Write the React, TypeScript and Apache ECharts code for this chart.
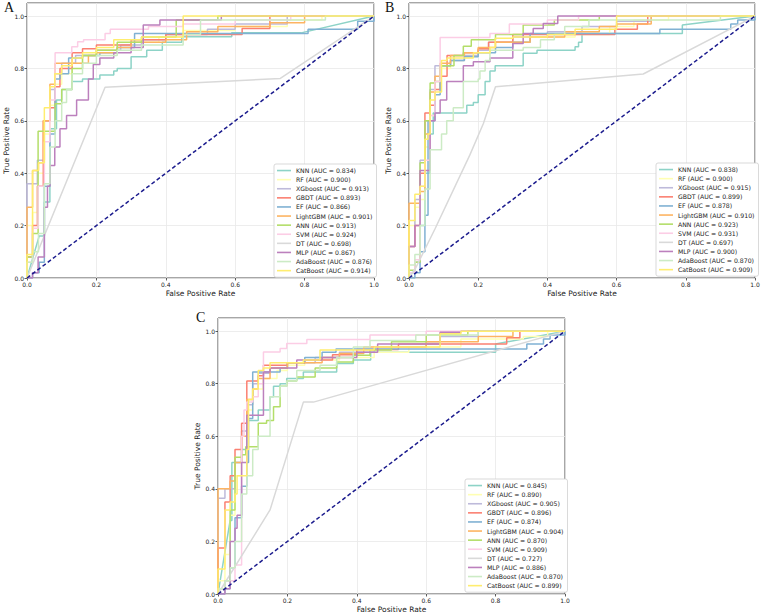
import React, { useEffect, useRef } from 'react';
import * as echarts from 'echarts';

// Model names, colours (Set3) and AUC values per panel
const models = ['KNN', 'RF', 'XGboost', 'GBDT', 'EF', 'LightGBM', 'ANN', 'SVM', 'DT', 'MLP', 'AdaBoost', 'CatBoost'];
const colors = ['#8dd3c7', '#ffffb3', '#bebada', '#fb8072', '#80b1d3', '#fdb462', '#b3de69', '#fccde5', '#d9d9d9', '#bc80bd', '#ccebc5', '#ffed6f'];
const aucA = [0.834, 0.900, 0.913, 0.893, 0.866, 0.901, 0.913, 0.924, 0.698, 0.867, 0.876, 0.914];
const aucB = [0.838, 0.900, 0.915, 0.899, 0.878, 0.910, 0.923, 0.931, 0.697, 0.900, 0.870, 0.909];
const aucC = [0.845, 0.890, 0.905, 0.896, 0.874, 0.904, 0.870, 0.909, 0.727, 0.886, 0.870, 0.899];

// ROC points [FPR, TPR]; a third entry of 1 marks a straight (tied) segment
const knnA = [[0,0],[0.035,0.16,1],[0.05,0.29],[0.066,0.57],[0.085,0.68],[0.1,0.72],[0.13,0.75],[0.16,0.76],[0.21,0.775],[0.25,0.79],[0.26,0.8],[0.3,0.845],[0.345,0.87],[0.39,0.9],[0.446,0.921],[0.59,0.936],[0.79,0.936],[1,1,1]];
const rfA = [[0,0],[0,0.2],[0.016,0.25],[0.03,0.4],[0.05,0.55],[0.066,0.66],[0.08,0.74],[0.1,0.78],[0.13,0.82],[0.16,0.85],[0.2,0.87],[0.26,0.89],[0.33,0.9],[0.38,0.92],[0.45,0.945],[0.6,0.96],[0.75,0.985],[0.85,1],[1,1]];
const xgbA = [[0,0],[0,0.36],[0.03,0.45],[0.05,0.6],[0.066,0.72],[0.08,0.78],[0.1,0.82],[0.14,0.85],[0.2,0.87],[0.27,0.89],[0.33,0.91],[0.4,0.93],[0.52,0.95],[0.6,0.97],[0.75,1],[1,1]];
const gbdtA = [[0,0],[0,0.08],[0.016,0.2],[0.03,0.35],[0.047,0.6],[0.066,0.65],[0.081,0.73],[0.095,0.8],[0.13,0.86],[0.16,0.875],[0.2,0.89],[0.3,0.91],[0.4,0.93],[0.62,0.953],[0.7,1],[1,1]];
const efA = [[0,0],[0.016,0.02],[0.035,0.06],[0.05,0.35],[0.066,0.55],[0.081,0.76],[0.095,0.78],[0.12,0.84],[0.16,0.85],[0.21,0.86],[0.26,0.88],[0.31,0.934],[0.81,0.95],[0.953,0.98],[1,1]];
const lgbA = [[0,0],[0,0.27],[0.016,0.41],[0.033,0.44],[0.047,0.6],[0.066,0.74],[0.081,0.82],[0.177,0.85],[0.2,0.86],[0.26,0.88],[0.3,0.9],[0.4,0.91],[0.46,0.94],[0.55,0.96],[0.7,0.975],[0.8,1],[1,1]];
const annA = [[0,0],[0,0.08],[0.016,0.17],[0.032,0.56],[0.081,0.665],[0.1,0.72],[0.13,0.8],[0.16,0.85],[0.2,0.87],[0.26,0.9],[0.33,0.92],[0.43,0.985],[0.55,1],[1,1]];
const svmA = [[0,0],[0,0.06],[0.016,0.19],[0.032,0.35],[0.05,0.52],[0.066,0.68],[0.081,0.86],[0.129,0.883],[0.146,0.902],[0.163,0.91],[0.225,0.934],[0.24,0.95],[0.35,0.96],[0.45,0.97],[0.6,0.985],[0.76,1],[1,1]];
const dtA = [[0,0],[0.225,0.728],[0.73,0.762],[1,1]];
const mlpA = [[0,0],[0.016,0.02],[0.032,0.08],[0.05,0.27],[0.059,0.35],[0.066,0.43],[0.08,0.5],[0.095,0.57],[0.114,0.62],[0.143,0.68],[0.177,0.76],[0.191,0.815],[0.21,0.84],[0.25,0.86],[0.3,0.88],[0.335,0.966],[0.383,0.985],[0.56,1],[1,1]];
const adaA = [[0,0],[0,0.06],[0.016,0.1],[0.033,0.17],[0.05,0.36],[0.066,0.5],[0.081,0.6],[0.1,0.67],[0.114,0.72],[0.13,0.78],[0.16,0.82],[0.2,0.85],[0.26,0.87],[0.33,0.89],[0.45,0.93],[0.5,0.985],[0.86,1],[1,1]];
const catA = [[0,0],[0,0.09],[0.016,0.41],[0.033,0.44],[0.05,0.65],[0.066,0.73],[0.08,0.78],[0.1,0.81],[0.13,0.84],[0.16,0.86],[0.2,0.88],[0.25,0.91],[0.33,0.92],[0.45,1],[1,1]];

const knnB = [[0,0],[0,0.02],[0.017,0.06],[0.032,0.2],[0.046,0.4],[0.06,0.55],[0.07,0.63],[0.167,0.66],[0.186,0.67],[0.2,0.7],[0.22,0.75],[0.234,0.79],[0.249,0.81],[0.33,0.858],[0.37,0.87],[0.48,0.883],[0.49,0.9],[0.5,0.934],[0.79,0.966],[1,1,1]];
const rfB = [[0,0],[0,0.2],[0.017,0.27],[0.032,0.3],[0.046,0.5],[0.061,0.62],[0.075,0.72],[0.09,0.8],[0.12,0.83],[0.16,0.85],[0.2,0.87],[0.25,0.9],[0.35,0.92],[0.48,0.93],[0.58,0.96],[0.65,0.985],[0.75,1],[1,1]];
const xgbB = [[0,0],[0,0.12],[0.017,0.3],[0.032,0.45],[0.046,0.6],[0.061,0.72],[0.075,0.81],[0.12,0.83],[0.16,0.85],[0.2,0.87],[0.23,0.9],[0.3,0.92],[0.4,0.94],[0.5,0.96],[0.6,0.98],[0.7,1],[1,1]];
const gbdtB = [[0,0],[0,0.12],[0.017,0.2],[0.032,0.4],[0.046,0.63],[0.061,0.66],[0.075,0.72],[0.09,0.77],[0.11,0.85],[0.157,0.86],[0.2,0.875],[0.23,0.9],[0.3,0.93],[0.595,0.95],[0.66,0.97],[0.69,1],[1,1]];
const efB = [[0,0],[0.017,0.02],[0.032,0.1],[0.046,0.24],[0.055,0.6],[0.075,0.7],[0.09,0.81],[0.12,0.83],[0.16,0.845],[0.2,0.86],[0.25,0.88],[0.3,0.9],[0.35,0.934],[0.725,0.95],[0.93,0.97],[0.95,0.985],[1,1]];
const lgbB = [[0,0],[0,0.285],[0.032,0.33],[0.046,0.55],[0.061,0.71],[0.075,0.77],[0.09,0.82],[0.12,0.85],[0.16,0.86],[0.2,0.88],[0.25,0.9],[0.35,0.92],[0.45,0.94],[0.55,0.96],[0.6,0.97],[0.7,1],[1,1]];
const annB = [[0,0],[0,0.03],[0.017,0.06],[0.032,0.44],[0.046,0.6],[0.061,0.745],[0.075,0.75],[0.09,0.81],[0.13,0.85],[0.157,0.885],[0.18,0.91],[0.25,0.93],[0.33,0.966],[0.42,0.985],[0.55,1],[1,1]];
const svmB = [[0,0],[0,0.02],[0.017,0.07],[0.032,0.35],[0.046,0.45],[0.061,0.62],[0.075,0.75],[0.09,0.918],[0.234,0.934],[0.29,0.97],[0.4,0.985],[0.49,1],[1,1]];
const dtB = [[0,0],[0.02,0.04],[0.076,0.19],[0.176,0.47],[0.215,0.59],[0.25,0.73],[0.677,0.779],[1,1]];
const mlpB = [[0,0],[0,0.12],[0.017,0.2],[0.032,0.41],[0.061,0.6],[0.075,0.63],[0.09,0.68],[0.109,0.75],[0.157,0.81],[0.186,0.826],[0.234,0.84],[0.3,0.895],[0.33,0.934],[0.359,0.953],[0.388,0.972],[0.43,1],[1,1]];
const adaB = [[0,0],[0,0.05],[0.017,0.09],[0.032,0.2],[0.046,0.34],[0.061,0.49],[0.094,0.55],[0.109,0.6],[0.128,0.65],[0.157,0.75],[0.2,0.76],[0.205,0.79],[0.22,0.83],[0.234,0.87],[0.33,0.88],[0.38,0.91],[0.42,0.93],[0.45,0.96],[0.52,0.985],[0.9,1],[1,1]];
const catB = [[0,0],[0,0.22],[0.017,0.32],[0.032,0.35],[0.046,0.53],[0.055,0.55],[0.061,0.68],[0.075,0.71],[0.094,0.83],[0.11,0.84],[0.186,0.86],[0.234,0.88],[0.249,0.915],[0.3,0.92],[0.4,0.93],[0.48,0.95],[0.6,1],[1,1]];

const knnC = [[0,0],[0.035,0.28,1],[0.04,0.5],[0.068,0.55],[0.083,0.66],[0.116,0.7],[0.15,0.75],[0.16,0.79],[0.179,0.8],[0.198,0.82],[0.246,0.845],[0.342,0.877],[0.39,0.89],[0.44,0.92],[0.8,0.951],[1,1,1]];
const rfC = [[0,0],[0,0.05],[0.02,0.15],[0.035,0.3],[0.049,0.45],[0.068,0.6],[0.083,0.7],[0.1,0.78],[0.13,0.82],[0.17,0.85],[0.2,0.87],[0.25,0.89],[0.35,0.9],[0.45,0.92],[0.55,0.94],[0.7,0.97],[0.88,0.98],[0.95,1],[1,1]];
const xgbC = [[0,0],[0,0.364],[0.02,0.4],[0.049,0.5],[0.068,0.62],[0.083,0.72],[0.1,0.8],[0.116,0.84],[0.15,0.86],[0.2,0.88],[0.28,0.9],[0.35,0.92],[0.45,0.94],[0.6,0.96],[0.64,0.98],[0.75,1],[1,1]];
const gbdtC = [[0,0],[0,0.175],[0.02,0.35],[0.035,0.45],[0.049,0.55],[0.068,0.65],[0.083,0.81],[0.116,0.83],[0.131,0.87],[0.2,0.88],[0.25,0.89],[0.33,0.91],[0.4,0.93],[0.52,0.951],[0.832,0.975],[0.87,1],[1,1]];
const efC = [[0,0],[0.02,0.02],[0.035,0.1],[0.049,0.29],[0.068,0.41],[0.083,0.5],[0.088,0.668],[0.1,0.845],[0.179,0.86],[0.2,0.88],[0.25,0.9],[0.3,0.92],[0.34,0.932],[0.89,0.951],[0.938,0.97],[0.957,0.985],[1,1]];
const lgbC = [[0,0],[0,0.4],[0.035,0.43],[0.049,0.5],[0.068,0.6],[0.083,0.74],[0.1,0.78],[0.116,0.82],[0.15,0.86],[0.2,0.88],[0.3,0.9],[0.35,0.915],[0.42,0.94],[0.6,0.96],[0.75,0.98],[0.85,1],[1,1]];
const annC = [[0,0],[0,0.02],[0.02,0.05],[0.035,0.32],[0.049,0.52],[0.068,0.53],[0.08,0.56],[0.116,0.65],[0.14,0.66],[0.16,0.712],[0.179,0.79],[0.198,0.81],[0.227,0.826],[0.28,0.86],[0.342,0.883],[0.39,0.908],[0.438,0.928],[0.5,0.96],[0.6,0.985],[0.72,1],[1,1]];
const svmC = [[0,0],[0,0.02],[0.02,0.05],[0.049,0.11],[0.068,0.6],[0.075,0.7],[0.083,0.73],[0.1,0.75],[0.116,0.8],[0.131,0.921],[0.179,0.934],[0.198,0.953],[0.256,0.968],[0.438,0.985],[0.6,1],[1,1]];
const dtC = [[0,0],[0.15,0.32],[0.246,0.73],[0.275,0.73],[1,1]];
const mlpC = [[0,0],[0.02,0.02],[0.035,0.2],[0.049,0.25],[0.055,0.3],[0.068,0.5],[0.083,0.68],[0.131,0.845],[0.15,0.86],[0.227,0.89],[0.3,0.9],[0.4,0.92],[0.46,0.951],[0.64,0.996],[0.7,1],[1,1]];
const adaC = [[0,0],[0,0.02],[0.02,0.05],[0.035,0.1],[0.049,0.2],[0.068,0.38],[0.083,0.45],[0.1,0.55],[0.116,0.6],[0.15,0.75],[0.179,0.79],[0.198,0.81],[0.227,0.85],[0.294,0.87],[0.342,0.9],[0.39,0.94],[0.438,0.964],[0.57,0.985],[0.75,1],[1,1]];
const catC = [[0,0],[0,0.095],[0.02,0.32],[0.035,0.35],[0.049,0.38],[0.055,0.45],[0.083,0.55],[0.088,0.74],[0.1,0.78],[0.116,0.85],[0.131,0.86],[0.15,0.88],[0.246,0.89],[0.294,0.928],[0.45,0.94],[0.64,0.99],[0.7,1],[1,1]];

const rocA = [knnA, rfA, xgbA, gbdtA, efA, lgbA, annA, svmA, dtA, mlpA, adaA, catA];
const rocB = [knnB, rfB, xgbB, gbdtB, efB, lgbB, annB, svmB, dtB, mlpB, adaB, catB];
const rocC = [knnC, rfC, xgbC, gbdtC, efC, lgbC, annC, svmC, dtC, mlpC, adaC, catC];

// Turn ROC points into the staircase drawn by a ROC plot
function staircase(pts: number[][], straight: boolean): number[][] {
  const out: number[][] = [[pts[0][0], pts[0][1]]];
  for (let i = 1; i < pts.length; i++) {
    const prev = out[out.length - 1];
    const q = pts[i];
    if (!straight && !q[2] && q[0] !== prev[0]) out.push([q[0], prev[1]]);
    out.push([q[0], q[1]]);
  }
  return out;
}

const FONT = 'DejaVu Sans';

const panels = [
  { letter: 'A', auc: aucA, roc: rocA, grid: { left: 27, top: 3, width: 347, height: 275 }, legend: { left: 274, top: 164 }, lx: 4, ly: 0 },
  { letter: 'B', auc: aucB, roc: rocB, grid: { left: 409, top: 3, width: 346, height: 275 }, legend: { left: 656, top: 163 }, lx: 385, ly: 0 },
  { letter: 'C', auc: aucC, roc: rocC, grid: { left: 218, top: 318, width: 347, height: 276 }, legend: { left: 465, top: 479 }, lx: 196, ly: 310 },
];

export default function App() {
  const ref = useRef<HTMLDivElement>(null);

  useEffect(() => {
    if (!ref.current) return;
    const chart = echarts.init(ref.current, null, { renderer: 'svg' });

    const grids: any[] = [];
    const xAxes: any[] = [];
    const yAxes: any[] = [];
    const legends: any[] = [];
    const series: any[] = [];
    const graphics: any[] = [];

    panels.forEach((p, k) => {
      grids.push({ ...p.grid, show: true, borderColor: '#3a3a3a', borderWidth: 0.9, backgroundColor: 'transparent' });
      const common = {
        gridIndex: k,
        type: 'value',
        min: 0,
        interval: 0.2,
        axisLine: { show: false },
        axisTick: { show: true, length: 2.5, lineStyle: { color: '#333', width: 0.8 } },
        splitLine: { show: true, lineStyle: { color: '#e9e9e9', width: 0.8 } },
        axisLabel: {
          fontFamily: FONT, fontSize: 6, color: '#222', margin: 3,
          formatter: (v: number) => v.toFixed(1),
        },
        nameLocation: 'middle',
        nameTextStyle: { fontFamily: FONT, fontSize: 7.5, color: '#222' },
      };
      xAxes.push({ ...common, max: 1, name: 'False Positive Rate', nameGap: 11 });
      yAxes.push({
        ...common, max: 1.05, name: 'True Positive Rate', nameGap: 16,
        axisLabel: { ...common.axisLabel, showMaxLabel: false },
      });

      const names: string[] = [];
      models.forEach((m, i) => {
        const name = `${m} (AUC = ${p.auc[i].toFixed(3)})`;
        names.push(name);
        series.push({
          type: 'line',
          name,
          xAxisIndex: k,
          yAxisIndex: k,
          data: staircase(p.roc[i], m === 'DT'),
          showSymbol: false,
          silent: true,
          color: colors[i],
          lineStyle: { color: colors[i], width: 1.5 },
        });
      });
      // chance line
      series.push({
        type: 'line',
        name: 'chance',
        xAxisIndex: k,
        yAxisIndex: k,
        data: [[0, 0], [1, 1]],
        showSymbol: false,
        silent: true,
        lineStyle: { color: '#1c1c8e', width: 1.5, type: [4, 2.5] },
      });

      legends.push({
        data: names,
        left: p.legend.left,
        top: p.legend.top,
        orient: 'vertical',
        icon: 'rect',
        itemWidth: 14,
        itemHeight: 1.6,
        itemGap: 0,
        selectedMode: false,
        padding: [2, 4, 2, 3],
        backgroundColor: '#ffffff',
        borderColor: '#cfcfcf',
        borderWidth: 0.8,
        borderRadius: 2,
        textStyle: { fontFamily: FONT, fontSize: 6.2, color: '#222', lineHeight: 9.1 },
      });

      graphics.push({
        type: 'text',
        x: p.lx,
        y: p.ly,
        style: {
          text: p.letter,
          font: '14px "Liberation Serif", "Times New Roman", serif',
          fill: '#111',
          verticalAlign: 'top',
        },
      });
    });

    chart.setOption({
      animation: false,
      backgroundColor: '#ffffff',
      grid: grids,
      xAxis: xAxes,
      yAxis: yAxes,
      legend: legends,
      series,
      graphic: graphics,
    });

    return () => chart.dispose();
  }, []);

  return (
    <div
      ref={ref}
      style={{ position: 'fixed', left: 0, top: 0, width: 767, height: 616, background: '#fff' }}
    />
  );
}
